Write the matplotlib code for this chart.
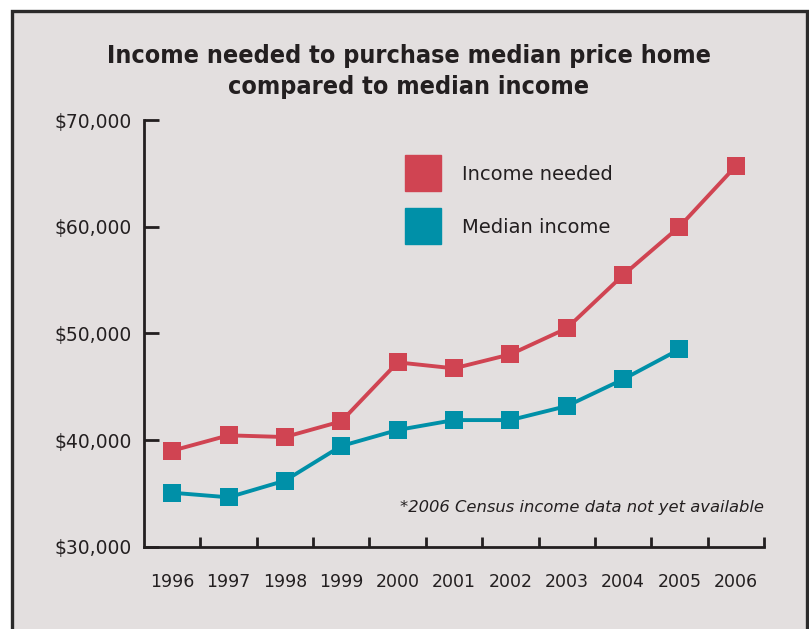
import numpy as np
import matplotlib.pyplot as plt
from matplotlib.lines import Line2D
from matplotlib.patches import Rectangle

years = ['1996', '1997', '1998', '1999', '2000', '2001', '2002', '2003', '2004', '2005', '2006']
income_needed = [39000, 40440, 40280, 41750, 47280, 46720, 48030, 50470, 55460, 60000, 65680]
median_income = [35060, 34630, 36190, 39440, 40940, 41870, 41870, 43180, 45690, 48500]
y_ticks = [30000, 40000, 50000, 60000, 70000]

red = '#d04452'
teal = '#0090a8'
bg = '#e3dfdf'
ink = '#231f20'

fig = plt.figure(figsize=(8.09, 6.29), dpi=100, facecolor='white')

# panel background with dark border (runs off the bottom of the figure)
fig.patches.append(Rectangle((12 / 809, -0.05), 795 / 809, 1.05 - 11 / 629,
                             transform=fig.transFigure, facecolor=bg,
                             edgecolor='#2b2a2a', linewidth=2.4, zorder=-5))

ax = fig.add_axes([144 / 809, (629 - 546.7) / 629, 620 / 809, 426.7 / 629])
ax.set_facecolor('none')
ax.set_zorder(2)

x = np.arange(len(years))
ax.plot(x, income_needed, color=red, linewidth=2.8, marker='s', markersize=13,
        markeredgewidth=0, zorder=3)
ax.plot(x[:len(median_income)], median_income, color=teal, linewidth=2.8, marker='s',
        markersize=13, markeredgewidth=0, zorder=3)

ax.set_xlim(-0.5, len(years) - 0.5)
ax.set_ylim(30000, 70000)

for s in ['top', 'right']:
    ax.spines[s].set_visible(False)
for s in ['left', 'bottom']:
    ax.spines[s].set_color(ink)
    ax.spines[s].set_linewidth(2.0)

ax.set_yticks(y_ticks)
ax.set_yticklabels(['${:,.0f}'.format(v) for v in y_ticks])
ax.tick_params(axis='y', direction='in', length=11, width=2.0, color=ink,
               labelsize=13.5, labelcolor=ink, pad=9)

ax.set_xticks(x)
ax.set_xticklabels(years)
ax.set_xticks(np.arange(0.5, len(years), 1), minor=True)
ax.tick_params(axis='x', which='major', length=0, labelsize=12.5, labelcolor=ink, pad=19)
ax.tick_params(axis='x', which='minor', direction='in', length=7, width=2.0, color=ink)

handles = [Line2D([], [], color=red, marker='s', linestyle='none', markersize=26),
           Line2D([], [], color=teal, marker='s', linestyle='none', markersize=26)]
ax.legend(handles, ['Income needed', 'Median income'], loc='upper left',
          bbox_to_anchor=(0.39, 0.935), frameon=False, fontsize=14,
          labelspacing=1.75, handletextpad=1.0, labelcolor=ink)

ax.text(1.0, 0.093, '*2006 Census income data not yet available', transform=ax.transAxes,
        ha='right', va='center', fontsize=11.8, style='italic', color=ink)

fig.text(0.5056, 0.886, 'Income needed to purchase median price home\ncompared to median income',
         ha='center', va='center', fontsize=18, fontweight='bold', color=ink,
         family='DejaVu Sans', fontstretch='condensed', linespacing=1.35)

fig.savefig('out.png', dpi=100, facecolor='white')
